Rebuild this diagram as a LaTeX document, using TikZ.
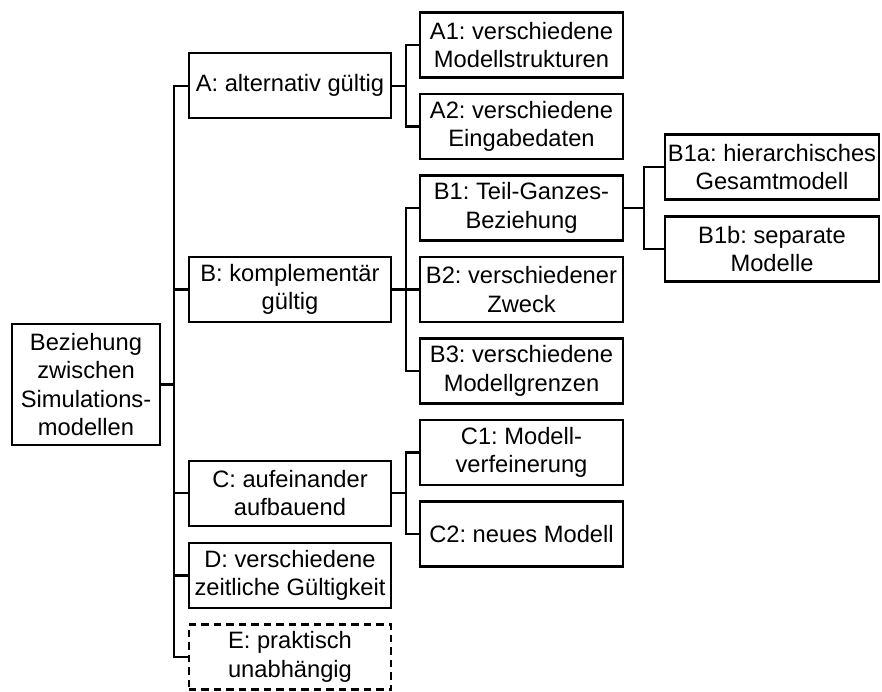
\documentclass[tikz,border=0pt]{standalone}
\usepackage{fontspec}
\setmainfont{Liberation Sans}
\frenchspacing
\begin{document}
\begin{tikzpicture}[node distance=81.5pt, line width=2.2pt,
  font=\fontsize{23.7}{28.5}\selectfont,
  box/.style={draw, rectangle, align=center, inner sep=1pt, minimum width=202.5pt, minimum height=65pt},
  widebox/.style={box, minimum width=214pt},
  rootbox/.style={box, minimum width=148pt, minimum height=121pt},
  loosebox/.style={box, dash pattern=on 7.5pt off 5pt}]
\useasboundingbox (0,0) rectangle (882pt,-691pt);
% third level
\node  (a1)[box] at (521.5pt,-45pt) {A1: verschiedene\\Modellstrukturen};
\node  (a2)[box] [below of = a1] {A2: verschiedene\\Eingabedaten};
\node  (b1)[box] [below of = a2] {B1: Teil-Ganzes-\\Beziehung};
\node  (b2)[box] [below of = b1] {B2: verschiedener\\Zweck};
\node  (b3)[box] [below of = b2] {B3: verschiedene\\Modellgrenzen};
\node  (c1)[box] [below of = b3] {C1: Modell-\\verfeinerung};
\node  (c2)[box] [below of = c1] {C2: neues Modell};
% fourth level
\node  (b1a)[widebox] [right of = b1, node distance=250.5pt, yshift=41pt] {B1a: hierarchisches\\Gesamtmodell};
\node  (b1b)[widebox] [right of = b1, node distance=250.5pt, yshift=-41pt] {B1b: separate\\Modelle};
% second level
\node  (a)[box] [left of = a1, node distance=231.5pt, yshift=-40.75pt] {A: alternativ gültig};
\node  (b)[box] [left of = b2, node distance=231.5pt] {B: komplementär\\gültig};
\node  (c)[box] [left of = c1, node distance=231.5pt, yshift=-40.75pt] {C: aufeinander\\aufbauend};
\node  (d)[box] [below of = c, yshift=-0.75pt] {D: verschiedene\\zeitliche Gültigkeit};
\node  (e)[loosebox] [below of = d] {E: praktisch\\unabhängig};
% root
\node  (root)[rootbox] at (86pt,-384.5pt) {Beziehung\\zwischen\\Simulations-\\modellen};
% connectors
\foreach \x in {a,b,c,d,e}
  \draw (root.east) -- ++(13pt,0) |- (\x.west);
\foreach \x in {a1,a2}
  \draw (a.east) -- ++(14pt,0) |- (\x.west);
\foreach \x in {b1,b2,b3}
  \draw (b.east) -- ++(14pt,0) |- (\x.west);
\foreach \x in {c1,c2}
  \draw (c.east) -- ++(14pt,0) |- (\x.west);
\foreach \x in {b1a,b1b}
  \draw (b1.east) -- ++(20pt,0) |- (\x.west);
\end{tikzpicture}
\end{document}
